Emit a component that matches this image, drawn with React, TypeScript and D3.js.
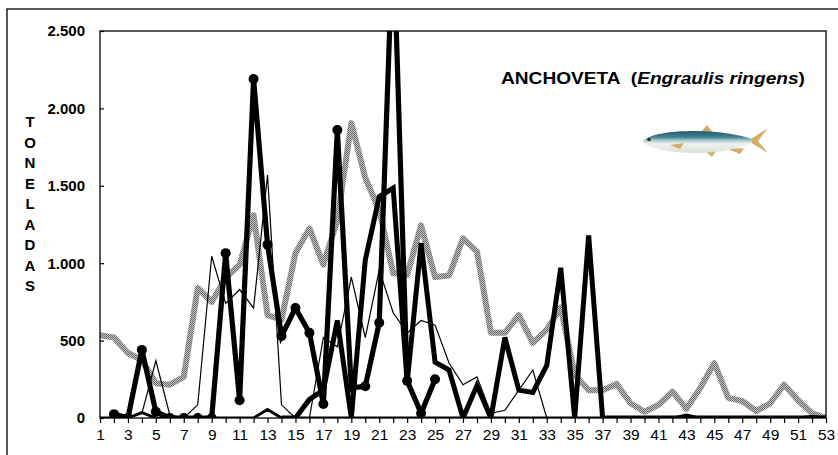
import * as d3 from "d3";
import { useEffect, useRef } from "react";

// weeks 1..53
const weeks = d3.range(1, 54);
const yTicks = [0, 500, 1000, 1500, 2000, 2500];
const xLabels = weeks.filter((w) => w % 2 === 1);

// gray dotted series (weeks 1-53)
const graySeries = [
    535, 520, 420, 375, 225, 215, 265, 840, 750, 905, 990, 1310, 665, 635, 1065,
    1225, 990, 1280, 1905, 1550, 1345, 935, 925, 1245, 910, 920, 1160, 1075, 550,
    550, 665, 485, 570, 715, 280, 180, 180, 220, 95, 40, 85, 170, 60, 195, 355,
    130, 110, 45, 95, 215, 115, 30, 0,
];

// thick line with circle markers (weeks 2-25)
const markerStart = 2;
const markerSeries = [
    25, 0, 440, 40, 0, 0, 0, 0, 1065, 115, 2190, 1120, 530, 710, 550, 90, 1860,
    195, 205, 615, 3150, 240, 30, 250,
];

// thick line without markers (weeks 14-53)
const thickStart = 14;
const thickSeries = [
    0, 0, 120, 180, 630, 0, 1020, 1430, 1485, 230, 1130, 360, 310, 0, 210, 0, 520,
    180, 165, 340, 970, 0, 1180, 0, 0, 0, 0, 0, 0, 0, 0, 0, 0, 0, 0, 0, 0, 0, 0, 0,
];

// thin line (weeks 1-53)
const thinSeries = [
    0, 0, 0, 30, 370, 20, 0, 85, 1045, 740, 830, 710, 1570, 85, 0, 0, 520, 460,
    910, 520, 955, 680, 550, 630, 600, 355, 215, 265, 30, 50, 180, 310, 0, 0, 0, 0,
    0, 0, 0, 0, 0, 0, 0, 0, 0, 0, 0, 0, 0, 0, 0, 0, 0,
];

// medium line near zero (weeks 1-53)
const lowSeries = [
    0, 0, 0, 35, 0, 0, 0, 0, 0, 0, 0, 0, 55, 0, 0, 0, 0, 0, 0, 0, 0, 0, 0, 0, 0, 0,
    0, 0, 0, 0, 0, 0, 0, 0, 0, 0, 0, 0, 0, 0, 0, 0, 20, 0, 0, 0, 0, 0, 0, 0, 0, 10,
    0,
];

const yLetters = "TONELADAS".split("");

const FONT = "'Liberation Sans', Arial, sans-serif";

function toPoints(values: number[], start: number): [number, number][] {
    return values.map((v, i) => [start + i, v]);
}

function drawChart(svgElement: SVGSVGElement) {
    const svg = d3.select(svgElement);
    svg.selectAll("*").remove();

    const plot = { left: 100, right: 826, top: 31, bottom: 418 };

    const x = d3.scaleLinear().domain([1, 53]).range([plot.left, plot.right]);
    const y = d3.scaleLinear().domain([0, 2500]).range([plot.bottom, plot.top]);

    const defs = svg.append("defs");
    const pattern = defs
        .append("pattern")
        .attr("id", "checker")
        .attr("patternUnits", "userSpaceOnUse")
        .attr("width", 2)
        .attr("height", 2);
    pattern.append("rect").attr("width", 2).attr("height", 2).attr("fill", "#c8c8c8");
    pattern.append("rect").attr("width", 1).attr("height", 1).attr("fill", "#666");
    pattern
        .append("rect")
        .attr("x", 1)
        .attr("y", 1)
        .attr("width", 1)
        .attr("height", 1)
        .attr("fill", "#666");

    defs.append("clipPath")
        .attr("id", "plotClip")
        .append("rect")
        .attr("x", plot.left)
        .attr("y", plot.top)
        .attr("width", plot.right - plot.left)
        .attr("height", plot.bottom - plot.top);

    // Outer frame
    svg.append("rect")
        .attr("x", 7)
        .attr("y", 9)
        .attr("width", 840)
        .attr("height", 460)
        .attr("fill", "white")
        .attr("stroke", "#000")
        .attr("stroke-width", 1.3);

    const line = d3
        .line<[number, number]>()
        .x((d) => x(d[0]))
        .y((d) => y(d[1]));

    const lines = svg.append("g").attr("clip-path", "url(#plotClip)");

    lines.append("path")
        .attr("d", line(toPoints(graySeries, 1)))
        .attr("fill", "none")
        .attr("stroke", "url(#checker)")
        .attr("stroke-width", 6)
        .attr("stroke-linejoin", "round");

    lines.append("path")
        .attr("d", line(toPoints(lowSeries, 1)))
        .attr("fill", "none")
        .attr("stroke", "#000")
        .attr("stroke-width", 2.8);

    lines.append("path")
        .attr("d", line(toPoints(thinSeries, 1)))
        .attr("fill", "none")
        .attr("stroke", "#000")
        .attr("stroke-width", 1.2);

    lines.append("path")
        .attr("d", line(toPoints(thickSeries, thickStart)))
        .attr("fill", "none")
        .attr("stroke", "#000")
        .attr("stroke-width", 5);

    const markerPts = toPoints(markerSeries, markerStart);
    lines.append("path")
        .attr("d", line(markerPts))
        .attr("fill", "none")
        .attr("stroke", "#000")
        .attr("stroke-width", 5.2);

    lines.selectAll(".dot")
        .data(markerPts)
        .join("circle")
        .attr("cx", (d) => x(d[0]))
        .attr("cy", (d) => y(d[1]))
        .attr("r", 5)
        .attr("fill", "#000");

    // Plot frame
    svg.append("rect")
        .attr("x", plot.left)
        .attr("y", plot.top)
        .attr("width", plot.right - plot.left)
        .attr("height", plot.bottom - plot.top)
        .attr("fill", "none")
        .attr("stroke", "#000")
        .attr("stroke-width", 1.3);

    // Y axis
    const yAxis = svg
        .append("g")
        .attr("transform", `translate(${plot.left},0)`)
        .call(
            d3
                .axisLeft(y)
                .tickValues(yTicks)
                .tickSizeInner(-4)
                .tickSizeOuter(0)
                .tickPadding(15)
                .tickFormat((d) => d3.format(",")(d as number).replace(/,/g, "."))
        );
    yAxis.select(".domain").remove();
    yAxis.selectAll("line").attr("stroke", "#000").attr("stroke-width", 1.2);
    yAxis.selectAll("text")
        .style("font-family", FONT)
        .style("font-size", "15px")
        .style("font-weight", "bold")
        .style("fill", "#000");

    // X axis
    const xAxis = svg
        .append("g")
        .attr("transform", `translate(0,${plot.bottom})`)
        .call(
            d3
                .axisBottom(x)
                .tickValues(weeks)
                .tickSizeInner(5)
                .tickSizeOuter(0)
                .tickPadding(6)
                .tickFormat((d) => (xLabels.includes(d as number) ? String(d) : ""))
        );
    xAxis.select(".domain").remove();
    xAxis.selectAll("line").attr("stroke", "#000").attr("stroke-width", 1.2);
    xAxis.selectAll("text")
        .style("font-family", FONT)
        .style("font-size", "15.5px")
        .style("fill", "#000");

    // Y axis title, stacked letters
    svg.append("g")
        .selectAll("text")
        .data(yLetters)
        .join("text")
        .attr("x", 30)
        .attr("y", (_, i) => 127 + i * 20.5)
        .attr("text-anchor", "middle")
        .style("font-family", FONT)
        .style("font-size", "15px")
        .style("font-weight", "bold")
        .text((d) => d);

    // Title
    const title = svg
        .append("text")
        .attr("x", 501)
        .attr("y", 84)
        .attr("textLength", 304)
        .attr("lengthAdjust", "spacingAndGlyphs")
        .style("font-family", FONT)
        .style("font-size", "17px")
        .style("font-weight", "bold");
    title.append("tspan").text("ANCHOVETA");
    title.append("tspan").attr("dx", 9).text("(");
    title.append("tspan").style("font-style", "italic").text("Engraulis ringens");
    title.append("tspan").text(")");

    // Fish
    const fish = svg.append("g");
    const grad = defs
        .append("linearGradient")
        .attr("id", "fishBody")
        .attr("x1", 0)
        .attr("y1", 0)
        .attr("x2", 0)
        .attr("y2", 1);
    [
        ["0%", "#24596a"],
        ["28%", "#3d8494"],
        ["42%", "#a9c7cb"],
        ["58%", "#eef2f0"],
        ["100%", "#dcdfd8"],
    ].forEach(([o, c]) => grad.append("stop").attr("offset", o).attr("stop-color", c));

    const fin = "#d2ad68";
    // tail
    fish.append("path")
        .attr("d", "M748,141 L768,128 L758,141 L768,153 Z")
        .attr("fill", fin);
    // dorsal fin
    fish.append("path")
        .attr("d", "M700,133 L707,125 L714,134 Z")
        .attr("fill", fin);
    // ventral / anal fins
    fish.append("path")
        .attr("d", "M705,151 L712,157 L716,151 Z")
        .attr("fill", fin);
    fish.append("path")
        .attr("d", "M728,149 L740,154 L744,148 Z")
        .attr("fill", fin);
    // body
    fish.append("path")
        .attr(
            "d",
            "M643,141 C650,134 670,131 695,131 C720,131 740,135 752,139 L752,143 C740,148 720,153 695,153 C672,153 652,149 643,143 Z"
        )
        .attr("fill", "url(#fishBody)");
    // gill / pectoral
    fish.append("path")
        .attr("d", "M670,145 L684,143 L680,149 Z")
        .attr("fill", fin);
    fish.append("circle")
        .attr("cx", 649)
        .attr("cy", 139.5)
        .attr("r", 1.8)
        .attr("fill", "#3a2a1a");
}

export default function App() {
    const chartRef = useRef<SVGSVGElement | null>(null);

    useEffect(() => {
        if (chartRef.current) {
            drawChart(chartRef.current);
        }
    }, []);

    return (
        <div style={{ position: "absolute", left: 0, top: 0 }}>
            <svg ref={chartRef} width={838} height={455} style={{ display: "block" }}></svg>
        </div>
    );
}
